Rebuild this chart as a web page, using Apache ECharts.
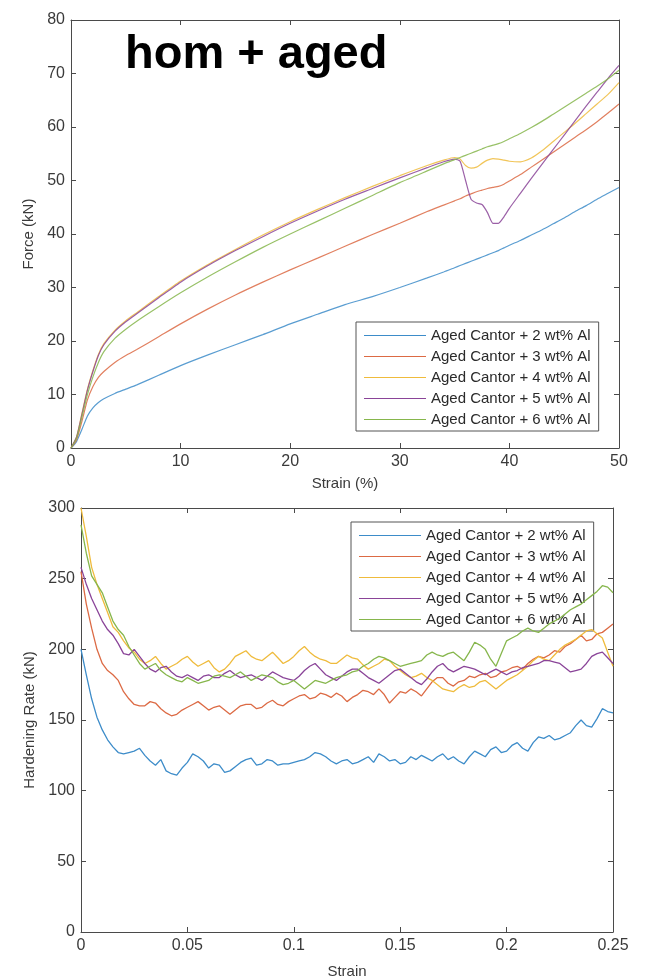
<!DOCTYPE html>
<html>
<head>
<meta charset="utf-8">
<script src="https://cdn.jsdelivr.net/npm/echarts@6/dist/echarts.min.js"></script>
<style>
  html, body { margin: 0; padding: 0; background: #fff; }
  #chart { width: 654px; height: 977px; }
</style>
</head>
<body>
<div id="chart"></div>
<script>
// ---- Force vs strain (%) ----
const strainPct = [0, 0.5, 1, 1.5, 2, 2.5, 3, 4, 5, 6, 8, 10, 12.5, 15, 17.5, 20, 22.5, 25, 27.5, 30,
  32.5, 34, 35, 35.5, 36, 36.5, 37, 37.5, 38, 38.5, 39, 39.5, 40, 41, 42, 43, 44, 45, 46, 47, 48, 49, 50];

const force2 = [0, 1.2, 3.5, 6, 7.5, 8.5, 9.2, 10.2, 11, 11.8, 13.6, 15.4, 17.4, 19.3, 21.2, 23.2, 25, 26.8, 28.3, 30,
  31.8, 32.9, 33.7, 34.1, 34.5, 34.9, 35.3, 35.7, 36.1, 36.5, 36.9, 37.4, 37.9, 38.8, 39.8, 40.8, 41.9, 43, 44.2, 45.3, 46.5, 47.6, 48.7];
const force3 = [0, 1.5, 5, 9, 11.5, 13.2, 14.3, 16, 17.3, 18.4, 20.8, 23.2, 26, 28.6, 31, 33.3, 35.5, 37.7, 39.9, 42,
  44.2, 45.4, 46.2, 46.6, 47.1, 47.5, 47.9, 48.2, 48.5, 48.7, 48.9, 49.3, 49.9, 51.1, 52.5, 53.9, 55.3, 56.7, 58.1, 59.5, 61, 62.6, 64.3];
const force4 = [0, 2, 6.5, 11, 14.5, 17.5, 19.5, 22, 23.8, 25.3, 28.3, 31.2, 34.3, 37.1, 39.8, 42.3, 44.6, 46.8, 48.9, 50.9,
  52.8, 53.8, 54.3, 54, 52.8, 52.3, 52.5, 53.2, 53.8, 54.1, 54, 53.8, 53.6, 53.5, 54.2, 55.6, 57.3, 59, 60.7, 62.5, 64.3, 66.1, 68.3];
const force5 = [0, 2, 6.3, 10.8, 14.3, 17.3, 19.3, 21.8, 23.6, 25.1, 28.1, 31, 34.1, 36.9, 39.5, 42, 44.3, 46.5, 48.5, 50.5,
  52.4, 53.5, 54, 53.6, 50, 46.5, 45.8, 45.5, 44, 42, 42, 43.2, 44.8, 47.6, 50.4, 53.1, 55.8, 58.5, 61.2, 63.9, 66.5, 69.1, 71.5];
const force6 = [0, 1.8, 5.8, 10, 13.3, 16, 18, 20.5, 22.2, 23.7, 26.4, 29, 32, 34.8, 37.5, 40, 42.4, 44.8, 47.2, 49.6,
  51.8, 53.1, 53.9, 54.3, 54.7, 55.1, 55.5, 55.9, 56.3, 56.6, 56.9, 57.3, 57.8, 58.8, 59.9, 61.1, 62.4, 63.7, 65, 66.3, 67.6, 69, 70.6];

// ---- Hardening rate vs strain ----
const strain = [0, 0.0025, 0.005, 0.0075, 0.01, 0.0125, 0.015, 0.0175, 0.02, 0.0225,
  0.025, 0.0275, 0.03, 0.0325, 0.035, 0.0375, 0.04, 0.0425, 0.045, 0.0475,
  0.05, 0.0525, 0.055, 0.0575, 0.06, 0.0625, 0.065, 0.0675, 0.07, 0.0725,
  0.075, 0.0775, 0.08, 0.0825, 0.085, 0.0875, 0.09, 0.0925, 0.095, 0.0975,
  0.1, 0.1025, 0.105, 0.1075, 0.11, 0.1125, 0.115, 0.1175, 0.12, 0.1225,
  0.125, 0.1275, 0.13, 0.1325, 0.135, 0.1375, 0.14, 0.1425, 0.145, 0.1475,
  0.15, 0.1525, 0.155, 0.1575, 0.16, 0.1625, 0.165, 0.1675, 0.17, 0.1725,
  0.175, 0.1775, 0.18, 0.1825, 0.185, 0.1875, 0.19, 0.1925, 0.195, 0.1975,
  0.2, 0.2025, 0.205, 0.2075, 0.21, 0.2125, 0.215, 0.2175, 0.22, 0.2225,
  0.225, 0.2275, 0.23, 0.2325, 0.235, 0.2375, 0.24, 0.2425, 0.245, 0.2475,
  0.25];

const rate2 = [200, 182, 165, 152, 143, 136, 131, 127, 126, 127,
  128, 130, 125, 121, 118, 122, 114, 112, 111, 116,
  120, 126, 124, 121, 116, 119, 118, 113, 114, 117,
  120, 122, 123, 118, 119, 122, 121, 118, 119, 119,
  120, 121, 122, 124, 127, 126, 124, 121, 119, 121,
  122, 119, 120, 122, 124, 120, 126, 124, 121, 122,
  119, 120, 124, 122, 125, 123, 121, 124, 126, 122,
  124, 121, 119, 124, 128, 126, 124, 129, 131, 127,
  128, 132, 134, 130, 128, 134, 138, 137, 139, 136,
  137, 139, 141, 146, 150, 146, 145, 151, 158, 156,
  155];
const rate3 = [255, 232, 215, 200, 190, 185, 182, 178, 170, 165,
  161, 160, 160, 163, 162, 158, 155, 153, 154, 157,
  159, 161, 163, 160, 157, 159, 160, 157, 154, 157,
  160, 161, 161, 158, 159, 162, 164, 161, 160, 163,
  165, 167, 168, 165, 166, 169, 168, 166, 169, 167,
  163, 166, 168, 171, 170, 168, 172, 168, 162, 166,
  170, 169, 172, 170, 167, 172, 177, 180, 180, 176,
  174, 177, 178, 181, 180, 182, 183, 180, 181, 184,
  185, 187, 188, 186, 190, 193, 195, 194, 196, 199,
  198, 202, 204, 207, 210, 206, 207, 211, 212, 215,
  218];
const rate4 = [300, 280, 258, 246, 236, 226, 216, 212, 206, 201,
  198, 193, 190, 192, 195, 190, 186, 188, 190, 193,
  195, 191, 188, 190, 192, 187, 184, 186, 190, 195,
  197, 199, 195, 193, 192, 195, 198, 194, 190, 192,
  195, 199, 202, 198, 195, 193, 192, 190, 190, 193,
  196, 194, 193, 189, 186, 188, 190, 193, 192, 188,
  185, 182, 180, 181, 183, 180, 178, 175, 172, 171,
  170, 173, 175, 173, 174, 177, 178, 175, 172, 175,
  178, 180, 182, 185, 188, 192, 195, 193, 192, 196,
  200, 203, 205, 207, 210, 213, 214, 211, 208, 198,
  188];
const rate5 = [258, 246, 236, 228, 220, 214, 210, 204, 197, 196,
  200, 195, 190, 186, 184, 187, 188, 184, 181, 180,
  182, 180, 178, 181, 182, 180, 180, 183, 185, 182,
  180, 181, 182, 180, 178, 181, 184, 182, 180, 179,
  178, 181, 185, 188, 190, 186, 182, 180, 178, 181,
  184, 186, 186, 183, 180, 178, 176, 179, 182, 185,
  186, 183, 180, 177, 175, 179, 184, 188, 190, 186,
  184, 186, 188, 187, 186, 184, 182, 184, 186, 184,
  182, 184, 185, 187, 188, 189, 190, 192, 192, 191,
  190, 187, 184, 185, 186, 190, 195, 197, 198, 194,
  190];
const rate6 = [288, 268, 252, 246, 240, 230, 220, 214, 210, 202,
  196, 190, 186, 188, 190, 185, 182, 180, 178, 177,
  180, 178, 176, 177, 178, 181, 182, 181, 180, 182,
  184, 181, 178, 180, 182, 181, 180, 177, 175, 176,
  178, 175, 172, 175, 178, 177, 176, 178, 180, 181,
  182, 184, 185, 188, 190, 193, 195, 194, 192, 190,
  188, 189, 190, 191, 192, 196, 198, 196, 195, 197,
  198, 195, 192, 198, 205, 203, 200, 193, 188, 197,
  206, 208, 210, 213, 215, 213, 212, 215, 218, 220,
  222, 225, 228, 230, 232, 235, 238, 241, 245, 244,
  240];

const names = ['Aged Cantor + 2 wt% Al', 'Aged Cantor + 3 wt% Al', 'Aged Cantor + 4 wt% Al',
  'Aged Cantor + 5 wt% Al', 'Aged Cantor + 6 wt% Al'];
const colors = ['#3d8cc9', '#dc6a44', '#efbb3c', '#8a4498', '#86b64c'];

const forceSets = [force2, force3, force4, force5, force6];
const rateSets = [rate2, rate3, rate4, rate5, rate6];

const FONT = '"Liberation Sans", Arial, Helvetica, sans-serif';
const AXIS_COLOR = '#4a4a4a';
const LABEL_COLOR = '#3a3a3a';

function mainAxis(pos, gridIndex, min, max, interval, name, nameGap, fmt) {
  return {
    type: 'value', gridIndex, position: pos, min, max, interval,
    name, nameLocation: 'middle', nameGap,
    nameTextStyle: { fontFamily: FONT, fontSize: 15, color: LABEL_COLOR },
    axisLine: { show: true, onZero: false, lineStyle: { color: AXIS_COLOR, width: 1 } },
    axisTick: { show: true, inside: true, length: 5, lineStyle: { color: AXIS_COLOR } },
    axisLabel: { show: true, fontFamily: FONT, fontSize: 16, color: LABEL_COLOR, margin: 6,
      formatter: fmt || (v => String(v)) },
    splitLine: { show: false }
  };
}
function mirrorAxis(pos, gridIndex, min, max, interval) {
  return {
    type: 'value', gridIndex, position: pos, min, max, interval,
    axisLine: { show: true, onZero: false, lineStyle: { color: AXIS_COLOR, width: 1 } },
    axisTick: { show: true, inside: true, length: 5, lineStyle: { color: AXIS_COLOR } },
    axisLabel: { show: false },
    splitLine: { show: false }
  };
}

const series = [];
forceSets.forEach((vals, k) => {
  series.push({
    name: names[k], type: 'line', xAxisIndex: 0, yAxisIndex: 0,
    data: strainPct.map((x, i) => [x, vals[i]]),
    showSymbol: false, symbol: 'none', smooth: 0.2,
    lineStyle: { color: colors[k], width: 1.2, opacity: 0.85 },
    itemStyle: { color: colors[k] }, z: 2 + k
  });
});
rateSets.forEach((vals, k) => {
  series.push({
    name: names[k], type: 'line', xAxisIndex: 2, yAxisIndex: 2,
    data: strain.map((x, i) => [x, vals[i]]),
    showSymbol: false, symbol: 'none',
    lineStyle: { color: colors[k], width: 1.3 },
    itemStyle: { color: colors[k] }, z: 2 + k
  });
});

function legendAt(left, top) {
  return {
    orient: 'vertical', left, top, data: names,
    itemWidth: 62, itemHeight: 14, itemGap: 6,
    icon: 'path://M0,7 L62,7 L62,8 L0,8 Z',
    padding: [6, 8, 4, 8],
    backgroundColor: '#fff', borderColor: '#555', borderWidth: 1,
    textStyle: { fontFamily: FONT, fontSize: 15, color: '#2a2a2a' },
    selectedMode: false
  };
}

const chart = echarts.init(document.getElementById('chart'), null, { renderer: 'canvas' });
chart.setOption({
  animation: false,
  backgroundColor: '#fff',
  color: colors,
  title: {
    text: 'hom + aged', left: 120, top: 27,
    textStyle: { fontFamily: FONT, fontSize: 47, fontWeight: 'bold', color: '#000' }
  },
  grid: [
    { left: 71, top: 20, width: 548, height: 428, containLabel: false, outerBoundsMode: 'none' },
    { left: 81, top: 508, width: 532, height: 424, containLabel: false, outerBoundsMode: 'none' }
  ],
  xAxis: [
    mainAxis('bottom', 0, 0, 50, 10, 'Strain (%)', 28),
    mirrorAxis('top', 0, 0, 50, 10),
    mainAxis('bottom', 1, 0, 0.25, 0.05, 'Strain', 32, v => String(+v.toFixed(2))),
    mirrorAxis('top', 1, 0, 0.25, 0.05)
  ],
  yAxis: [
    mainAxis('left', 0, 0, 80, 10, 'Force (kN)', 29),
    mirrorAxis('right', 0, 0, 80, 10),
    mainAxis('left', 1, 0, 300, 50, 'Hardening Rate (kN)', 39),
    mirrorAxis('right', 1, 0, 300, 50)
  ],
  legend: [legendAt(356, 322), legendAt(351, 522)],
  series
});
</script>
</body>
</html>
